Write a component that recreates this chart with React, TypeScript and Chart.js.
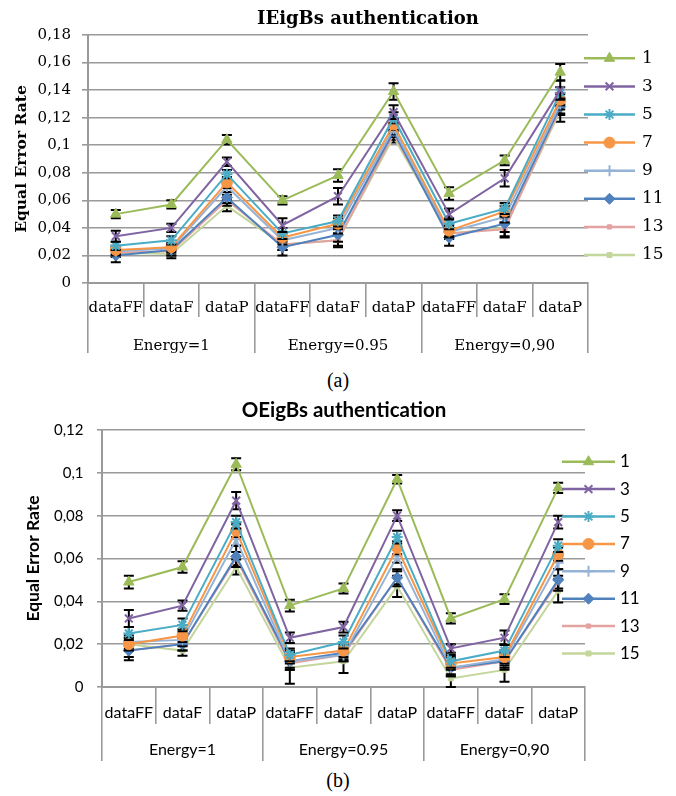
import React, { useEffect, useRef } from 'react';
import { Chart, registerables } from 'chart.js';
import { drawPoint } from 'chart.js/helpers';

Chart.register(...registerables);

// ---------- data ----------
const categories = ['dataFF', 'dataF', 'dataP', 'dataFF', 'dataF', 'dataP', 'dataFF', 'dataF', 'dataP'];
const groups = ['Energy=1', 'Energy=0.95', 'Energy=0,90'];
const seriesNames = ['1', '3', '5', '7', '9', '11', '13', '15'];

const titleA = 'IEigBs authentication';
const titleB = 'OEigBs authentication';
const yTitle = 'Equal Error Rate';
const yMaxA = 0.18;
const yMaxB = 0.12;
const yStep = 0.02;

// IEigBs (a)
const ieig1 = [0.050, 0.057, 0.104, 0.060, 0.078, 0.139, 0.065, 0.089, 0.153];
const ieig3 = [0.034, 0.040, 0.088, 0.042, 0.063, 0.124, 0.050, 0.076, 0.140];
const ieig5 = [0.027, 0.031, 0.079, 0.036, 0.045, 0.120, 0.043, 0.054, 0.138];
const ieig7 = [0.024, 0.026, 0.073, 0.033, 0.043, 0.115, 0.038, 0.052, 0.133];
const ieig9 = [0.023, 0.025, 0.070, 0.031, 0.040, 0.112, 0.037, 0.048, 0.130];
const ieig11 = [0.020, 0.024, 0.062, 0.026, 0.035, 0.110, 0.033, 0.043, 0.128];
const ieig13 = [0.022, 0.023, 0.060, 0.028, 0.031, 0.108, 0.036, 0.039, 0.127];
const ieig15 = [0.022, 0.021, 0.056, 0.028, 0.031, 0.106, 0.036, 0.040, 0.125];

const ieigErr1 = [0.003, 0.003, 0.0035, 0.003, 0.0045, 0.006, 0.0045, 0.0035, 0.006];
const ieigErr3 = [0.004, 0.003, 0.003, 0.005, 0.006, 0.005, 0.004, 0.006, 0.007];
const ieigErr5 = [0.003, 0.003, 0.003, 0.004, 0.004, 0.004, 0.004, 0.004, 0.004];
const ieigErr7 = [0.003, 0.003, 0.004, 0.003, 0.004, 0.004, 0.004, 0.004, 0.004];
const ieigErr9 = [0.003, 0.003, 0.004, 0.003, 0.004, 0.004, 0.004, 0.004, 0.004];
const ieigErr11 = [0.005, 0.004, 0.004, 0.006, 0.005, 0.004, 0.006, 0.006, 0.005];
const ieigErr13 = [0.003, 0.003, 0.004, 0.004, 0.004, 0.004, 0.004, 0.005, 0.005];
const ieigErr15 = [0.003, 0.003, 0.004, 0.004, 0.005, 0.004, 0.004, 0.007, 0.008];

// OEigBs (b)
const oeig1 = [0.049, 0.056, 0.104, 0.038, 0.046, 0.097, 0.032, 0.041, 0.093];
const oeig3 = [0.032, 0.038, 0.087, 0.023, 0.028, 0.080, 0.018, 0.023, 0.077];
const oeig5 = [0.025, 0.029, 0.077, 0.015, 0.021, 0.070, 0.012, 0.017, 0.066];
const oeig7 = [0.020, 0.024, 0.073, 0.014, 0.017, 0.065, 0.011, 0.014, 0.062];
const oeig9 = [0.021, 0.022, 0.069, 0.012, 0.015, 0.061, 0.009, 0.013, 0.058];
const oeig11 = [0.017, 0.020, 0.061, 0.012, 0.016, 0.051, 0.009, 0.012, 0.050];
const oeig13 = [0.017, 0.020, 0.060, 0.011, 0.015, 0.051, 0.008, 0.012, 0.049];
const oeig15 = [0.020, 0.017, 0.056, 0.009, 0.012, 0.047, 0.004, 0.008, 0.045];

const oeigErr1 = [0.003, 0.0027, 0.0028, 0.0027, 0.0023, 0.002, 0.0024, 0.0023, 0.0024];
const oeigErr3 = [0.004, 0.0024, 0.004, 0.0024, 0.0025, 0.0025, 0.002, 0.0034, 0.003];
const oeigErr5 = [0.003, 0.003, 0.003, 0.003, 0.003, 0.003, 0.003, 0.003, 0.003];
const oeigErr7 = [0.003, 0.003, 0.003, 0.003, 0.003, 0.003, 0.003, 0.003, 0.003];
const oeigErr9 = [0.003, 0.003, 0.003, 0.003, 0.003, 0.003, 0.003, 0.003, 0.003];
const oeigErr11 = [0.0045, 0.003, 0.005, 0.004, 0.003, 0.004, 0.004, 0.004, 0.005];
const oeigErr13 = [0.003, 0.003, 0.003, 0.003, 0.003, 0.003, 0.003, 0.003, 0.003];
const oeigErr15 = [0.003, 0.0024, 0.0035, 0.0075, 0.0055, 0.005, 0.0044, 0.0055, 0.0055];

const ieigValues = [ieig1, ieig3, ieig5, ieig7, ieig9, ieig11, ieig13, ieig15];
const ieigErrors = [ieigErr1, ieigErr3, ieigErr5, ieigErr7, ieigErr9, ieigErr11, ieigErr13, ieigErr15];
const oeigValues = [oeig1, oeig3, oeig5, oeig7, oeig9, oeig11, oeig13, oeig15];
const oeigErrors = [oeigErr1, oeigErr3, oeigErr5, oeigErr7, oeigErr9, oeigErr11, oeigErr13, oeigErr15];

// ---------- styles ----------
const colors = ['#9BBB59', '#8064A2', '#4BACC6', '#F79646', '#95B3D7', '#4F81BD', '#E3A3A1', '#C3D69B'];
const pointStyles = ['triangle', 'crossRot', 'star', 'circle', 'cross', 'rectRot', 'rect', 'rect'];
const pointRadii = [6, 5.5, 5.5, 5.5, 5.5, 5.5, 3, 3.5];
const pointBorderWidths = [1, 2, 2, 1, 2, 1, 1, 1];
const GRID = '#9a9a9a';

const fmtTick = (v: number) => String(+Number(v).toFixed(2)).replace('.', ',');

function makeErrorPlugin() {
  return {
    id: 'errorBars',
    beforeDatasetDraw(chart: any, args: any) {
      const ds = chart.data.datasets[args.index];
      const errs = ds.errors;
      if (!errs) return;
      const ys = chart.scales.y;
      const ctx = chart.ctx;
      ctx.save();
      ctx.strokeStyle = '#000';
      ctx.lineWidth = 2;
      args.meta.data.forEach((pt: any, j: number) => {
        const v = ds.data[j];
        const e = errs[j];
        const x = pt.x;
        const top = ys.getPixelForValue(v + e);
        const bot = ys.getPixelForValue(Math.max(0, v - e));
        ctx.beginPath();
        ctx.moveTo(x, top); ctx.lineTo(x, bot);
        ctx.moveTo(x - 5, top); ctx.lineTo(x + 5, top);
        ctx.moveTo(x - 5, bot); ctx.lineTo(x + 5, bot);
        ctx.stroke();
      });
      ctx.restore();
    },
  };
}

interface LegendSpec { x0: number; len: number; y0: number; step: number; gap: number; font: string }
interface TitleSpec { text: string; x: number; y: number; font: string }

function makeLegendPlugin(o: LegendSpec, t: TitleSpec) {
  return {
    id: 'lineLegend',
    afterDraw(chart: any) {
      const ctx = chart.ctx;
      // chart title
      ctx.save();
      ctx.fillStyle = '#000';
      ctx.font = t.font;
      ctx.textAlign = 'center';
      ctx.textBaseline = 'middle';
      ctx.fillText(t.text, t.x, t.y);
      ctx.restore();
      chart.data.datasets.forEach((ds: any, i: number) => {
        const y = o.y0 + i * o.step;
        ctx.save();
        ctx.strokeStyle = ds.borderColor;
        ctx.lineWidth = 2.5;
        ctx.beginPath();
        ctx.moveTo(o.x0, y);
        ctx.lineTo(o.x0 + o.len, y);
        ctx.stroke();
        ctx.fillStyle = ds.pointBackgroundColor;
        ctx.strokeStyle = ds.pointBorderColor;
        ctx.lineWidth = ds.pointBorderWidth;
        drawPoint(ctx, { pointStyle: ds.pointStyle, radius: ds.pointRadius, rotation: 0, borderWidth: ds.pointBorderWidth } as any, o.x0 + o.len / 2, y);
        ctx.fillStyle = '#000';
        ctx.font = o.font;
        ctx.textBaseline = 'middle';
        ctx.textAlign = 'left';
        ctx.fillText(ds.label, o.x0 + o.len + o.gap, y);
        ctx.restore();
      });
    },
  };
}

interface Spec {
  values: number[][];
  errors: number[][];
  yMax: number;
  family: string;
  tickSize: number;
  xSize: number;
  yTitleSize: number;
  topPad: number;
  yTitlePad: number;
  yWidth: number;
  yTickLen: number;
  yTickPad: number;
  rightWidth: number;
  xH: number; xTL: number; xPad: number;
  x2H: number; x2TL: number; x2Pad: number;
  legend: LegendSpec;
  title: TitleSpec;
}

function makeConfig(s: Spec): any {
  const datasets = s.values.map((vals, i) => ({
    label: seriesNames[i],
    data: vals,
    errors: s.errors[i],
    borderColor: colors[i],
    backgroundColor: colors[i],
    borderWidth: 2,
    pointStyle: pointStyles[i],
    pointRadius: pointRadii[i],
    pointBackgroundColor: colors[i],
    pointBorderColor: colors[i],
    pointBorderWidth: pointBorderWidths[i],
    tension: 0,
    fill: false,
  }));
  return {
    type: 'line',
    data: { labels: categories, datasets },
    plugins: [makeErrorPlugin(), makeLegendPlugin(s.legend, s.title)],
    options: {
      responsive: false,
      animation: false,
      events: [],
      layout: { padding: { left: 0, right: 0, top: s.topPad, bottom: 0 } },
      plugins: {
        legend: { display: false },
        tooltip: { enabled: false },
        title: { display: false },
      },
      scales: {
        y: {
          min: 0,
          max: s.yMax,
          afterFit: (sc: any) => { sc.width = s.yWidth; },
          ticks: {
            stepSize: yStep,
            color: '#000',
            padding: s.yTickPad,
            font: { family: s.family, size: s.tickSize },
            callback: (v: any) => fmtTick(v),
          },
          grid: { color: GRID, lineWidth: 1.6, tickLength: s.yTickLen },
          border: { color: GRID, width: 2 },
          title: {
            display: true,
            text: yTitle,
            color: '#000',
            font: { family: s.family, size: s.yTitleSize, weight: 'bold' },
            padding: { top: s.yTitlePad, bottom: 0 },
          },
        },
        yR: {
          type: 'linear',
          position: 'right',
          display: true,
          afterFit: (sc: any) => { sc.width = s.rightWidth; },
          ticks: { display: false },
          grid: { display: false, drawTicks: false },
          border: { display: false },
        },
        x: {
          type: 'category',
          offset: true,
          weight: 0,
          afterFit: (sc: any) => { sc.height = s.xH; },
          ticks: {
            color: '#000',
            padding: s.xPad,
            maxRotation: 0,
            autoSkip: false,
            font: { family: s.family, size: s.xSize },
          },
          grid: { offset: true, drawOnChartArea: false, color: GRID, lineWidth: 1.6, tickLength: s.xTL },
          border: { color: GRID, width: 2 },
        },
        x2: {
          type: 'category',
          labels: groups,
          position: 'bottom',
          offset: true,
          weight: 1,
          afterFit: (sc: any) => { sc.height = s.x2H; },
          ticks: {
            color: '#000',
            padding: s.x2Pad,
            maxRotation: 0,
            autoSkip: false,
            font: { family: s.family, size: s.xSize },
          },
          grid: { offset: true, drawOnChartArea: false, color: GRID, lineWidth: 1.6, tickLength: s.x2TL },
          border: { display: false },
        },
      },
    },
  };
}

const specA: Spec = {
  values: ieigValues,
  errors: ieigErrors,
  yMax: yMaxA,
  family: 'DejaVu Serif',
  tickSize: 15,
  xSize: 15,
  yTitleSize: 15.5,
  topPad: 35,
  yTitlePad: 12.7,
  yWidth: 88,
  yTickLen: 6,
  yTickPad: 11,
  rightWidth: 88,
  xH: 34, xTL: 34, xPad: -18,
  x2H: 48, x2TL: 36, x2Pad: -16,
  legend: { x0: 584, len: 51, y0: 58.3, step: 28.1, gap: 7, font: '17px "DejaVu Serif"' },
  title: { text: titleA, x: 368, y: 19, font: 'bold 18px "DejaVu Serif"' },
};

const specB: Spec = {
  values: oeigValues,
  errors: oeigErrors,
  yMax: yMaxB,
  family: 'Lato',
  tickSize: 15,
  xSize: 16,
  yTitleSize: 17.5,
  topPad: 35,
  yTitlePad: 22.5,
  yWidth: 102,
  yTickLen: 5,
  yTickPad: 13.5,
  rightWidth: 91,
  xH: 37, xTL: 37, xPad: -20.6,
  x2H: 45, x2TL: 37, x2Pad: -20.6,
  legend: { x0: 562, len: 53, y0: 66.7, step: 27.4, gap: 5, font: '17px Lato' },
  title: { text: titleB, x: 344, y: 15, font: 'bold 20.5px Lato' },
};

function ChartCanvas({ spec, top, height }: { spec: Spec; top: number; height: number }) {
  const ref = useRef<HTMLCanvasElement>(null);
  useEffect(() => {
    const chart = new Chart(ref.current as HTMLCanvasElement, makeConfig(spec));
    return () => chart.destroy();
  }, [spec]);
  return (
    <canvas
      ref={ref}
      width={676}
      height={height}
      style={{ position: 'absolute', left: 0, top, width: 676, height, display: 'block' }}
    />
  );
}

const captionStyle: React.CSSProperties = {
  position: 'absolute',
  left: 0,
  width: 676,
  textAlign: 'center',
  fontFamily: '"Liberation Serif", serif',
  fontSize: 20,
  lineHeight: '20px',
  color: '#000',
};

export default function App() {
  return (
    <div style={{ position: 'absolute', left: 0, top: 0, width: 676, height: 796, background: '#fff', overflow: 'hidden' }}>
      <ChartCanvas spec={specA} top={0} height={365} />
      <div style={{ ...captionStyle, top: 370 }}>(a)</div>
      <ChartCanvas spec={specB} top={395} height={374} />
      <div style={{ ...captionStyle, top: 770 }}>(b)</div>
    </div>
  );
}
